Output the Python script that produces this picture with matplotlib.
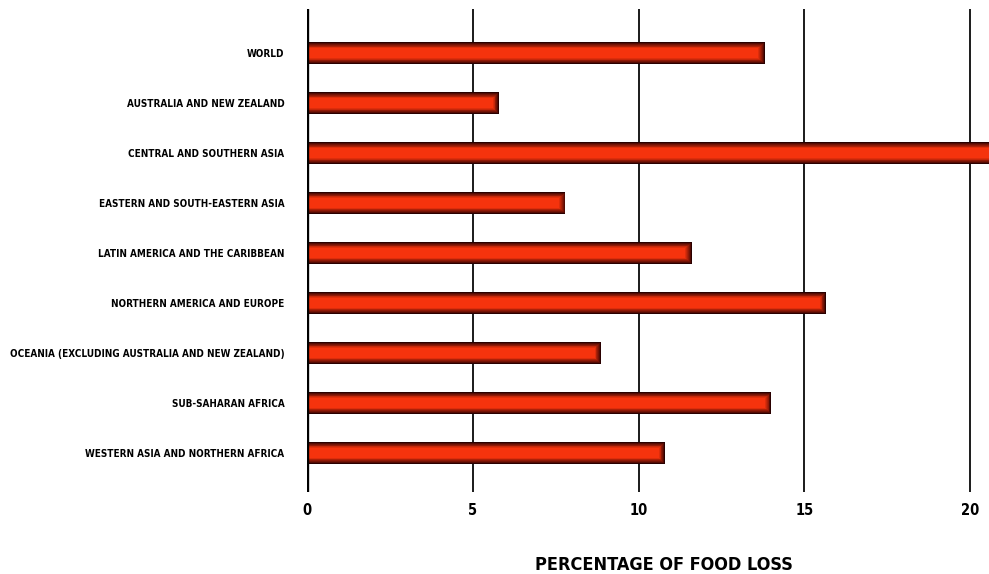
import matplotlib
matplotlib.use('Agg')
from matplotlib import pyplot as plt
from matplotlib.colors import to_rgb
import numpy as np

regions = ['WORLD',
           'AUSTRALIA AND NEW ZEALAND',
           'CENTRAL AND SOUTHERN ASIA',
           'EASTERN AND SOUTH-EASTERN ASIA',
           'LATIN AMERICA AND THE CARIBBEAN',
           'NORTHERN AMERICA AND EUROPE',
           'OCEANIA (EXCLUDING AUSTRALIA AND NEW ZEALAND)',
           'SUB-SAHARAN AFRICA',
           'WESTERN ASIA AND NORTHERN AFRICA']
food_loss = [13.8, 5.8, 21.0, 7.8, 11.6, 15.65, 8.87, 14.0, 10.8]
xticks = [0, 5, 10, 15, 20]

plt.rcParams['font.family'] = ['DejaVu Sans']
plt.rcParams['font.stretch'] = 'condensed'
plt.rcParams['font.weight'] = 'bold'

fig = plt.figure(figsize=(9.89, 5.74), dpi=100)
ax = fig.add_axes([0.31, 0.1429, 0.69, 0.8414])

ypos = np.arange(len(regions))
bar_h = 0.44
# px -> data units for the shaded bar edges
px_x = 20.56 / 682.5
px_y = 1.0 / 50

dark = np.array(to_rgb('#2a0000'))
bright = np.array(to_rgb('#f5330d'))
nlayers = 8
for k in range(nlayers):
    t = (k / (nlayers - 1)) ** 0.8
    col = dark + (bright - dark) * t
    inset = k * 0.9
    ax.barh(ypos, [v - inset * px_x for v in food_loss],
            height=bar_h - 2 * inset * px_y, color=col, zorder=2 + k * 0.01,
            linewidth=0)

for x in xticks[1:]:
    ax.axvline(x, color='#1a1a1a', lw=1.4, zorder=1)
ax.axvline(0, color='black', lw=2.4, zorder=3)

ax.set_xlim(0, 20.56)
ax.set_ylim(8.78, -0.88)
ax.set_yticks(ypos)
ax.set_yticklabels(regions, fontsize=10, fontweight='bold')
ax.set_xticks(xticks)
ax.set_xticklabels([str(x) for x in xticks], fontsize=10.5, fontweight='bold')
ax.tick_params(axis='both', length=0)
ax.tick_params(axis='y', pad=16)
ax.tick_params(axis='x', pad=8)
for s in ax.spines.values():
    s.set_visible(False)

ax.set_xlabel('PERCENTAGE OF FOOD LOSS', fontsize=13, fontweight='bold', va='center')
ax.xaxis.set_label_coords(0.524, -0.151)

# shrink the region labels if the widest one runs past the left edge
fig.canvas.draw()
r = fig.canvas.get_renderer()
left = min(t.get_window_extent(r).x0 for t in ax.get_yticklabels())
avail = 306.5 - 16 * 100 / 72 - 12
need = 306.5 - 16 * 100 / 72 - left
if need > avail:
    for t in ax.get_yticklabels():
        t.set_fontsize(10 * avail / need)

plt.savefig('out.png', dpi=100)
